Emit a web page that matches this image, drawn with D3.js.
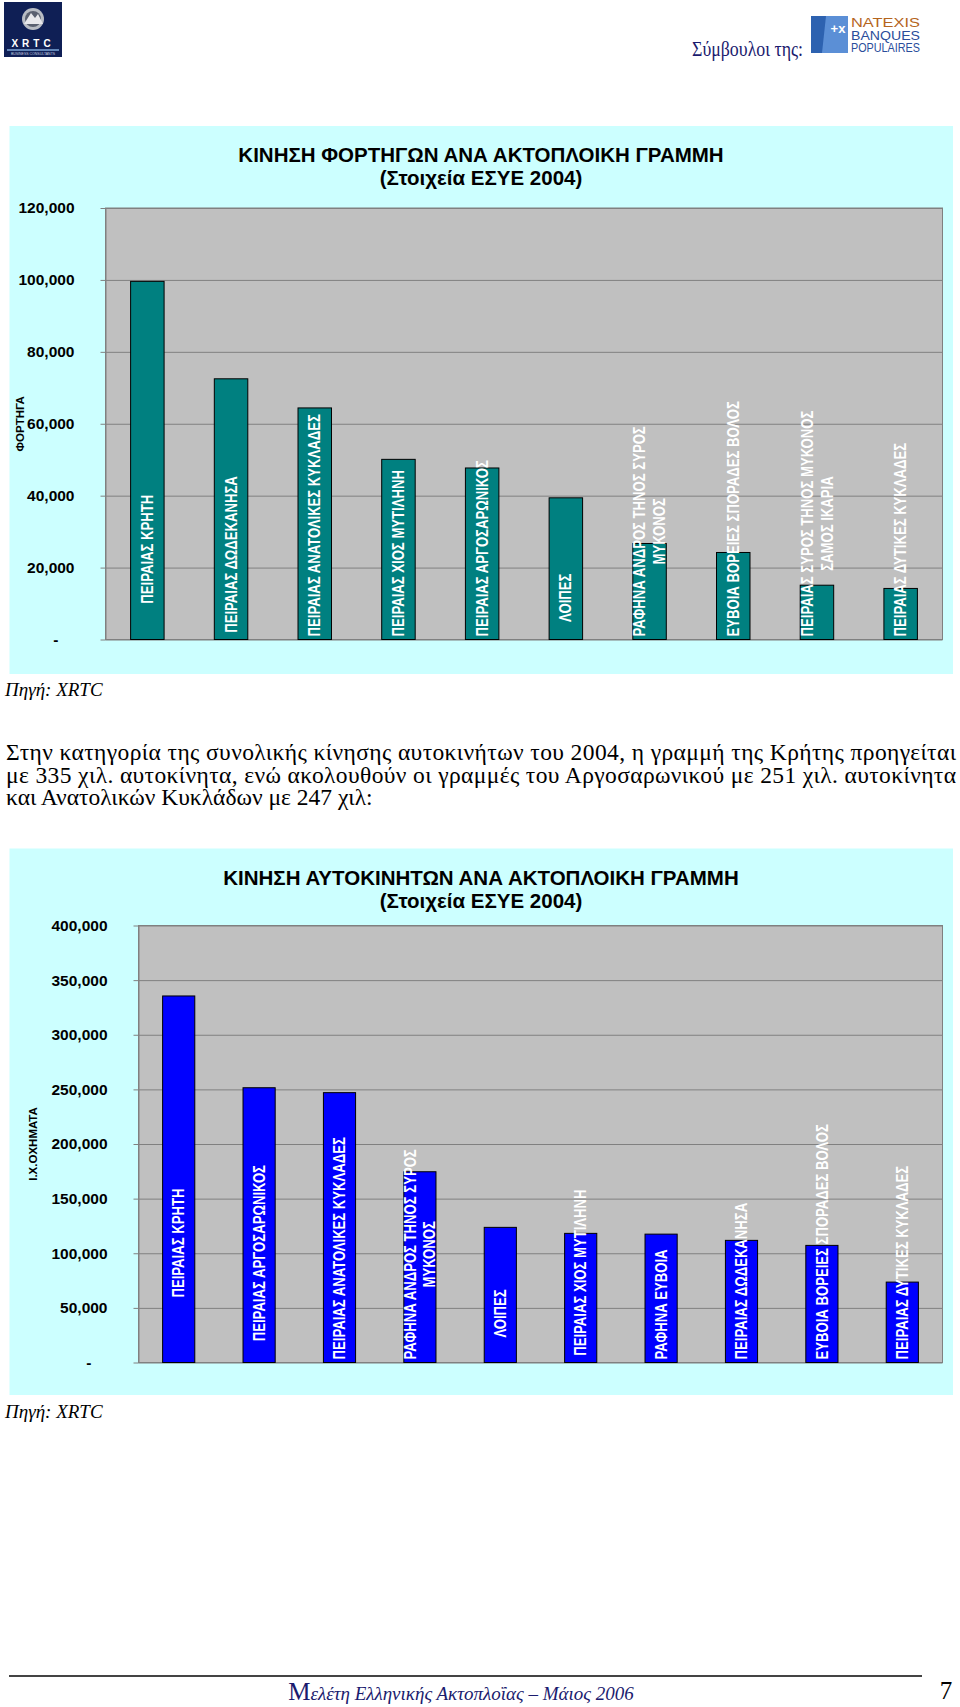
<!DOCTYPE html>
<html><head><meta charset="utf-8">
<script src="https://cdn.jsdelivr.net/npm/d3@7"></script>
<style>
body{margin:0;background:#fff}
svg{display:block}
.barlabel{white-space:pre}
</style>
</head><body>
<svg id="page" width="960" height="1707"></svg>
<script>
// ---------------- DATA ----------------
// Chart 1: trucks per coastal line (ΕΣΥΕ 2004)
const trucksCategories = [
  "         ΠΕΙΡΑΙΑΣ ΚΡΗΤΗ",
  " ΠΕΙΡΑΙΑΣ ΔΩΔΕΚΑΝΗΣΑ",
  "ΠΕΙΡΑΙΑΣ ΑΝΑΤΟΛΙΚΕΣ ΚΥΚΛΑΔΕΣ",
  "ΠΕΙΡΑΙΑΣ ΧΙΟΣ ΜΥΤΙΛΗΝΗ",
  "ΠΕΙΡΑΙΑΣ ΑΡΓΟΣΑΡΩΝΙΚΟΣ",
  "    ΛΟΙΠΕΣ",
  "ΡΑΦΗΝΑ ΑΝΔΡΟΣ ΤΗΝΟΣ ΣΥΡΟΣ\nΜΥΚΟΝΟΣ",
  "ΕΥΒΟΙΑ ΒΟΡΕΙΕΣ ΣΠΟΡΑΔΕΣ ΒΟΛΟΣ",
  "ΠΕΙΡΑΙΑΣ ΣΥΡΟΣ ΤΗΝΟΣ ΜΥΚΟΝΟΣ\nΣΑΜΟΣ ΙΚΑΡΙΑ",
  "ΠΕΙΡΑΙΑΣ ΔΥΤΙΚΕΣ ΚΥΚΛΑΔΕΣ"
];
const trucksValues = [99600, 72500, 64400, 50100, 47700, 39400, 26700, 24200, 15100, 14200];
const trucksTicks = [0, 20000, 40000, 60000, 80000, 100000, 120000];
const trucksTitle = ["ΚΙΝΗΣΗ ΦΟΡΤΗΓΩΝ ΑΝΑ ΑΚΤΟΠΛΟΙΚΗ ΓΡΑΜΜΗ", "(Στοιχεία ΕΣΥΕ 2004)"];
const trucksAxisTitle = "ΦΟΡΤΗΓΑ";

// Chart 2: private cars per coastal line (ΕΣΥΕ 2004)
const carsCategories = [
  "                 ΠΕΙΡΑΙΑΣ ΚΡΗΤΗ",
  "     ΠΕΙΡΑΙΑΣ ΑΡΓΟΣΑΡΩΝΙΚΟΣ",
  "ΠΕΙΡΑΙΑΣ ΑΝΑΤΟΛΙΚΕΣ ΚΥΚΛΑΔΕΣ",
  "ΡΑΦΗΝΑ ΑΝΔΡΟΣ ΤΗΝΟΣ ΣΥΡΟΣ\nΜΥΚΟΝΟΣ",
  "      ΛΟΙΠΕΣ",
  " ΠΕΙΡΑΙΑΣ ΧΙΟΣ ΜΥΤΙΛΗΝΗ",
  "ΡΑΦΗΝΑ ΕΥΒΟΙΑ",
  "ΠΕΙΡΑΙΑΣ ΔΩΔΕΚΑΝΗΣΑ",
  "ΕΥΒΟΙΑ ΒΟΡΕΙΕΣ ΣΠΟΡΑΔΕΣ ΒΟΛΟΣ",
  "ΠΕΙΡΑΙΑΣ ΔΥΤΙΚΕΣ ΚΥΚΛΑΔΕΣ"
];
const carsValues = [335500, 251500, 247000, 174600, 123700, 118200, 117500, 111800, 107200, 73600];
const carsTicks = [0, 50000, 100000, 150000, 200000, 250000, 300000, 350000, 400000];
const carsTitle = ["ΚΙΝΗΣΗ ΑΥΤΟΚΙΝΗΤΩΝ ΑΝΑ ΑΚΤΟΠΛΟΙΚΗ ΓΡΑΜΜΗ", "(Στοιχεία ΕΣΥΕ 2004)"];
const carsAxisTitle = "Ι.Χ.ΟΧΗΜΑΤΑ";

const sourceText = "Πηγή: XRTC";
const paragraphLines = [
  "Στην κατηγορία της συνολικής κίνησης αυτοκινήτων του 2004, η γραμμή της Κρήτης προηγείται",
  "με 335 χιλ. αυτοκίνητα, ενώ ακολουθούν οι γραμμές του Αργοσαρωνικού με 251 χιλ. αυτοκίνητα",
  "και Ανατολικών Κυκλάδων με 247 χιλ:"
];

// ---------------- DRAW ----------------
const svg = d3.select("#page");
const SANS = "'Liberation Sans', Arial, sans-serif";
const SERIF = "'Liberation Serif', 'Times New Roman', serif";
const NAVY = "#1b1b6e";

function drawChart(o) {
  const g = svg.append("g");
  const y = d3.scaleLinear().domain([0, o.ticks[o.ticks.length - 1]]).range([o.bottom, o.top]);
  const x = d3.scaleBand().domain(o.categories.map((c, i) => i))
    .range([o.left, o.right]).paddingInner(0.6).paddingOuter(0.3);

  g.append("rect").attr("x", o.px).attr("y", o.py).attr("width", o.pw).attr("height", o.ph)
    .attr("fill", "#CCFFFF");
  g.append("rect").attr("x", o.left).attr("y", o.top)
    .attr("width", o.right - o.left).attr("height", o.bottom - o.top).attr("fill", "#C0C0C0");

  // gridlines
  g.append("g").attr("transform", `translate(${o.left},0)`)
    .call(d3.axisLeft(y).tickValues(o.ticks).tickSize(-(o.right - o.left)).tickFormat(""))
    .call(s => { s.select(".domain").remove(); s.selectAll("line").attr("stroke", "#808080"); });

  // plot border
  g.append("rect").attr("x", o.left).attr("y", o.top)
    .attr("width", o.right - o.left).attr("height", o.bottom - o.top)
    .attr("fill", "none").attr("stroke", "#808080");

  // y axis
  const ax = g.append("g").attr("transform", `translate(${o.left},0)`)
    .call(d3.axisLeft(y).tickValues(o.ticks).tickSize(5).tickSizeOuter(0).tickPadding(26)
      .tickFormat(d => d === 0 ? "-" : d3.format(",")(d)));
  ax.select(".domain").attr("stroke", "#808080");
  ax.selectAll(".tick line").attr("stroke", "#808080");
  ax.selectAll(".tick text").attr("font-family", SANS).attr("font-weight", "bold")
    .attr("font-size", "15.5px").attr("fill", "#000");
  ax.selectAll(".tick text").filter(d => d === 0).attr("x", -47);

  // bars
  g.selectAll("rect.bar").data(o.values).join("rect").attr("class", "bar")
    .attr("x", (d, i) => x(i)).attr("width", x.bandwidth())
    .attr("y", d => y(d)).attr("height", d => y(0) - y(d))
    .attr("fill", o.color).attr("stroke", "#000").attr("stroke-width", 1);

  // bar labels (rotated, white)
  const SX = 0.82, FS = 16, LINE = 20;
  o.categories.forEach((c, i) => {
    const lines = c.split("\n").map(s => s.replace(/^ +/, m => "\u00A0".repeat(m.length)));
    const cx = x(i) + x.bandwidth() / 2;
    const lg = g.append("g");
    const texts = lines.map((t, k) => lg.append("text").attr("class", "barlabel")
      .attr("text-anchor", "middle").attr("x", 0)
      .attr("y", (k - (lines.length - 1) / 2) * LINE).attr("dy", "0.35em")
      .attr("font-family", SANS).attr("font-weight", "bold").attr("font-size", FS + "px")
      .attr("fill", "#fff").text(t));
    const maxLen = d3.max(texts, t => t.node().getComputedTextLength()) * SX;
    const cy = y(0) - 3 - maxLen / 2;
    lg.attr("transform", `translate(${cx},${cy}) rotate(-90) scale(${SX},1)`);
  });

  // title
  o.title.forEach((t, k) => g.append("text").attr("x", 481).attr("y", o.titleY + k * 23)
    .attr("text-anchor", "middle").attr("font-family", SANS).attr("font-weight", "bold")
    .attr("font-size", "20.5px").attr("fill", "#000").text(t));

  // axis title
  g.append("text").attr("transform", `translate(${o.axisTitleX},${(o.top + o.bottom) / 2}) rotate(-90)`)
    .attr("text-anchor", "middle").attr("dy", "0.35em").attr("font-family", SANS)
    .attr("font-weight", "bold").attr("font-size", "11.5px").attr("fill", "#000").text(o.axisTitle);
}

drawChart({
  categories: trucksCategories, values: trucksValues, ticks: trucksTicks,
  title: trucksTitle, axisTitle: trucksAxisTitle, color: "#008080",
  px: 9.5, py: 126, pw: 943.5, ph: 548,
  left: 105.5, right: 942.5, top: 208, bottom: 639.5,
  titleY: 161.5, axisTitleX: 20
});

drawChart({
  categories: carsCategories, values: carsValues, ticks: carsTicks,
  title: carsTitle, axisTitle: carsAxisTitle, color: "#0000FF",
  px: 9.5, py: 848.5, pw: 943.5, ph: 546.5,
  left: 138.5, right: 942.5, top: 925.5, bottom: 1362.5,
  titleY: 884.5, axisTitleX: 32.5
});

// source lines
[696, 1418].forEach(yy => svg.append("text").attr("x", 5).attr("y", yy)
  .attr("font-family", SERIF).attr("font-style", "italic").attr("font-size", "19px")
  .attr("fill", "#000").text(sourceText));

// paragraph (justified)
paragraphLines.forEach((t, k) => {
  const tx = svg.append("text").attr("x", 6).attr("y", 760 + k * 22.5)
    .attr("font-family", SERIF).attr("font-size", "23.5px").attr("fill", "#000").text(t);
  if (k < paragraphLines.length - 1) tx.attr("textLength", 950).attr("lengthAdjust", "spacing");
});

// header: XRTC logo
const lg = svg.append("g");
lg.append("rect").attr("x", 4).attr("y", 2).attr("width", 58).attr("height", 55).attr("fill", "#0f1f55");
lg.append("circle").attr("cx", 33).attr("cy", 19).attr("r", 11).attr("fill", "#b8bcc4");
lg.append("circle").attr("cx", 33).attr("cy", 19).attr("r", 8).attr("fill", "#5a6070");
lg.append("path").attr("d", "M24,24 L31,13 L35,18 L38,14 L43,24 Z").attr("fill", "#e8e8ec");
lg.append("text").attr("x", 33).attr("y", 47).attr("text-anchor", "middle")
  .attr("font-family", SANS).attr("font-weight", "bold").attr("font-size", "10px")
  .attr("letter-spacing", "4px").attr("fill", "#fff").text("XRTC");
lg.append("line").attr("x1", 7).attr("x2", 59).attr("y1", 50).attr("y2", 50)
  .attr("stroke", "#7fa8d8").attr("stroke-width", 1.5);
lg.append("text").attr("x", 33).attr("y", 55).attr("text-anchor", "middle")
  .attr("font-family", SANS).attr("font-size", "3.5px").attr("fill", "#c8d0e0")
  .text("BUSINESS CONSULTANTS");

// header: advisors text + NATEXIS logo
svg.append("text").attr("x", 692).attr("y", 56).attr("font-family", SERIF)
  .attr("font-size", "20px").attr("fill", NAVY).attr("textLength", 111)
  .attr("lengthAdjust", "spacingAndGlyphs").text("Σύμβουλοι της:");
const nl = svg.append("g");
nl.append("rect").attr("x", 811).attr("y", 16).attr("width", 37).attr("height", 37).attr("fill", "#2d62b0");
nl.append("path").attr("d", "M826,16 L848,16 L848,53 L822,53 Z").attr("fill", "#5b8fd6");
nl.append("text").attr("x", 838).attr("y", 33).attr("text-anchor", "middle")
  .attr("font-family", SANS).attr("font-weight", "bold").attr("font-size", "13px")
  .attr("fill", "#fff").text("+x");
[["NATEXIS", 27, "#b5651d"], ["BANQUES", 39.5, "#2a4d9b"], ["POPULAIRES", 52, "#2a4d9b"]]
  .forEach(([t, yy, c]) => nl.append("text").attr("x", 851).attr("y", yy)
    .attr("font-family", SANS).attr("font-size", "13px").attr("fill", c)
    .attr("textLength", 69).attr("lengthAdjust", "spacingAndGlyphs").text(t));

// footer
svg.append("line").attr("x1", 9).attr("x2", 922).attr("y1", 1676).attr("y2", 1676)
  .attr("stroke", "#444").attr("stroke-width", 2);
const ft = svg.append("text").attr("x", 461).attr("y", 1700).attr("text-anchor", "middle")
  .attr("font-family", SERIF).attr("fill", NAVY);
ft.append("tspan").attr("font-size", "25px").text("Μ");
ft.append("tspan").attr("font-size", "19px").attr("font-style", "italic")
  .text("ελέτη Ελληνικής Ακτοπλοΐας – Μάιος 2006");
svg.append("text").attr("x", 946).attr("y", 1699).attr("text-anchor", "middle")
  .attr("font-family", SERIF).attr("font-size", "25px").attr("fill", "#000").text("7");
</script>
</body></html>
